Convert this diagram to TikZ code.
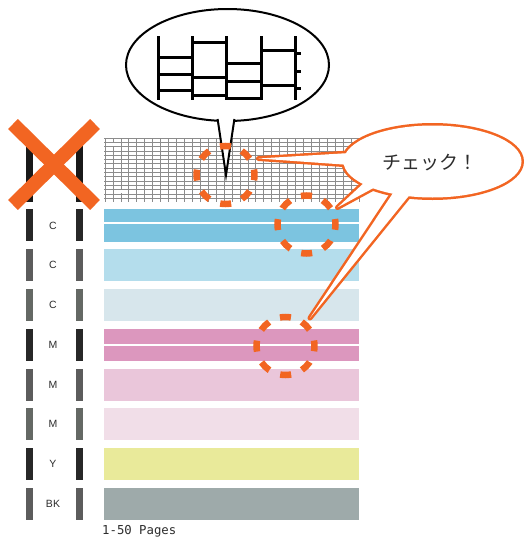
\documentclass[tikz,border=0pt]{standalone}
\usepackage{fontspec}
\setmainfont{Liberation Sans}
\newfontfamily\cjk{Noto Sans CJK JP}
\newfontfamily\monof{DejaVu Sans Mono}
\definecolor{orng}{RGB}{242,101,34}
\definecolor{gridc}{RGB}{140,140,140}
\definecolor{bandA}{RGB}{124,196,224}
\definecolor{bandB}{RGB}{180,221,236}
\definecolor{bandC}{RGB}{215,230,236}
\definecolor{bandD}{RGB}{220,151,190}
\definecolor{bandE}{RGB}{234,198,218}
\definecolor{bandF}{RGB}{241,222,232}
\definecolor{bandG}{RGB}{233,234,154}
\definecolor{bandH}{RGB}{158,170,170}
\definecolor{barA}{RGB}{40,40,40}
\definecolor{barB}{RGB}{92,92,92}
\definecolor{barC}{RGB}{100,104,100}
\definecolor{txtc}{RGB}{45,45,45}
\tikzset{
  gridline/.style={draw=gridc, line width=0.75pt},
  lbl/.style={font=\fontsize{10.5}{11}\selectfont, text=txtc, inner sep=0pt},
  dcirc/.style={draw=orng, line width=6.5pt, dash pattern=on 11pt off 11.78pt, dash phase=5.5pt},
  glyph/.style={draw=black, line width=3pt},
  xarm/.style={draw=orng, line width=14pt},
}
\begin{document}
\begin{tikzpicture}[x=1pt,y=-1pt]
\useasboundingbox (0,0) rectangle (523,538);
\fill[white] (0,0) rectangle (523,538);

% ---- grid row ----
\foreach \k in {0,...,32} \draw[gridline] ({105+7.9375*\k},138) -- ({105+7.9375*\k},202);
\foreach \k in {0,...,14} \draw[gridline] (104,{138+4.3*\k}) -- (359.5,{138+4.3*\k});
\foreach \cx/\cy in {1/1, 7/4, 2/12, 9/10, 24/2, 25/10, 30/6, 16/7, 19/3, 12/13} {
  \fill[white] ({105+7.9375*\cx+0.5},{138+4.3*\cy+0.5}) rectangle ({105+7.9375*(\cx+1)-0.5},{138+4.3*(\cy+1)-0.5});
}

% ---- colour bands ----
\fill[bandA] (104,209) rectangle (359,222);
\fill[bandA] (104,224) rectangle (359,242);
\fill[bandB] (104,249) rectangle (359,281);
\fill[bandC] (104,289) rectangle (359,321);
\fill[bandD] (104,329) rectangle (359,344);
\fill[bandD] (104,346) rectangle (359,361);
\fill[bandE] (104,369) rectangle (359,401);
\fill[bandF] (104,408) rectangle (359,440);
\fill[bandG] (104,448) rectangle (359,480);
\fill[bandH] (104,488) rectangle (359,520);

% ---- side bars ----
\fill[black!90] (26,138) rectangle (33,202);
\fill[black!90] (76,138) rectangle (83,202);
\foreach \y/\c in {209/barA, 249/barB, 289/barC, 329/barA, 369/barB, 408/barC, 448/barA, 488/barB} {
  \fill[\c] (26,\y) rectangle (33,{\y+32});
  \fill[\c] (76,\y) rectangle (83,{\y+32});
}

% ---- row labels ----
\node[lbl] (l1) at (53,225.5) {C};
\node[lbl] (l2) at (53,265) {C};
\node[lbl] (l3) at (53,305) {C};
\node[lbl] (l4) at (53,345) {M};
\node[lbl] (l5) at (53,385) {M};
\node[lbl] (l6) at (53,424) {M};
\node[lbl] (l7) at (53,464) {Y};
\node[lbl] (l8) at (53,504) {BK};
\node[font=\monof\fontsize{12.3}{12}\selectfont, text=txtc, anchor=west, inner sep=0pt] (pages) at (102,531.5) {1-50 Pages};

% ---- top speech bubble (black) ----
\draw[black, line width=2pt, fill=white] (227.5,65) ellipse [x radius=101.5pt, y radius=56pt];
\fill[white] (217,108) -- (226,175) -- (235,108) -- cycle;
\draw[black, line width=2pt, line join=miter, miter limit=20] (217.6,119) -- (226,175) -- (234.4,119);

% glyph inside the bubble
\foreach \x in {158,192,226,261,295} \draw[glyph] (\x,36) -- (\x,100);
\foreach \y in {57,74,90} \draw[glyph] (158,\y) -- (192,\y);
\foreach \y in {42,77,95} \draw[glyph] (192,\y) -- (226,\y);
\foreach \y in {63,81,98} \draw[glyph] (226,\y) -- (261,\y);
\foreach \y in {50,85} \draw[glyph] (261,\y) -- (295,\y);
\foreach \y in {53,71,88} \draw[glyph] (295,\y) -- (301,\y);

% ---- check bubble (orange) ----
\draw[orng, line width=5pt] (432.5,161.5) ellipse [x radius=89pt, y radius=36pt];
\draw[orng, line width=5pt, line join=round] (350,153) -- (258.5,158.5) -- (350,165) -- cycle;
\draw[orng, line width=5pt, line join=round] (366,181) -- (337.5,207.5) -- (379,185) -- cycle;
\draw[orng, line width=5pt, line join=round] (395,190) -- (310,318) -- (412,192) -- cycle;
\fill[white] (432.5,161.5) ellipse [x radius=89pt, y radius=36pt];
\fill[white] (350,153) -- (258.5,158.5) -- (350,165) -- cycle;
\fill[white] (366,181) -- (337.5,207.5) -- (379,185) -- cycle;
\fill[white] (395,190) -- (310,318) -- (412,192) -- cycle;
\node[font=\cjk\fontsize{19}{20}\selectfont, text=txtc, inner sep=0pt] (chk) at (430,163) {チェック！};

% ---- dashed circles ----
\draw[dcirc] (225.5,175) circle [radius=29pt];
\draw[dcirc] (306.5,224.5) circle [radius=29pt];
\draw[dcirc] (285.5,346) circle [radius=29pt];

% ---- orange cross ----
\draw[xarm] (13,124) -- (95,205);
\draw[xarm] (95,124) -- (13,205);
\end{tikzpicture}
\end{document}
